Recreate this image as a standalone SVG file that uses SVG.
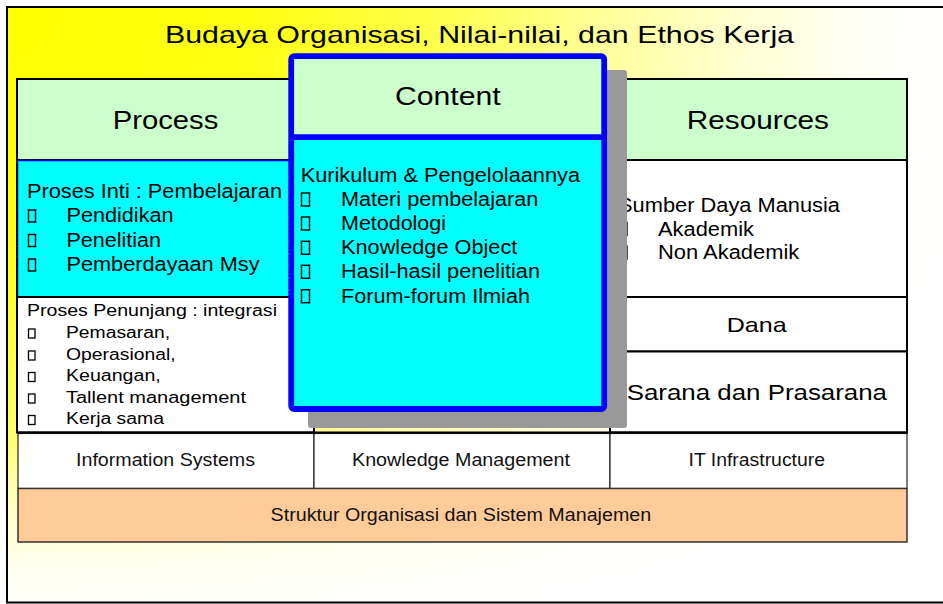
<svg xmlns="http://www.w3.org/2000/svg" width="943" height="604" viewBox="0 0 943 604">
  <defs>
    <!-- warm yellow glow spreading from the upper-left corner of the slide -->
    <radialGradient id="bgGlow" gradientUnits="userSpaceOnUse" cx="0" cy="0" r="1000" gradientTransform="scale(1,0.85)">
      <stop offset="0" stop-color="#FFFF00"/>
      <stop offset="0.25" stop-color="#FFFF10"/>
      <stop offset="0.45" stop-color="#FFFF50"/>
      <stop offset="0.6" stop-color="#FFFF99"/>
      <stop offset="0.75" stop-color="#FFFFD5"/>
      <stop offset="0.88" stop-color="#FFFFFA"/>
      <stop offset="1" stop-color="#FFFFFF"/>
    </radialGradient>
    <!-- lower part of the slide washes out to white -->
    <linearGradient id="bottomWash" gradientUnits="userSpaceOnUse" x1="0" y1="440" x2="0" y2="585">
      <stop offset="0" stop-color="#FFFFFF" stop-opacity="0"/>
      <stop offset="1" stop-color="#FFFFFF" stop-opacity="0.88"/>
    </linearGradient>
    <!-- hollow list marker -->
    <rect id="bulletLg" width="7" height="12" fill="none" stroke="#000" stroke-width="1.4"/>
    <rect id="bulletMd" width="8" height="13" fill="none" stroke="#000" stroke-width="1.4"/>
    <rect id="bulletSm" width="6.5" height="9" fill="none" stroke="#000" stroke-width="1.3"/>
  </defs>
  <style>
    text { font-family: "Liberation Sans", Arial, sans-serif; fill: #000; }
    .hdr { fill: #CCFFCC; stroke: #000; stroke-width: 2; }
    .cell { fill: #FFFFFF; stroke: #000; stroke-width: 2; }
    .lower { fill: #FFFFFF; stroke: #222; stroke-width: 1.2; }
    .h1 { font-size: 25px; }
    .t20 { font-size: 20px; }
    .t19 { font-size: 19.5px; }
    .t16 { font-size: 16px; }
    .t17 { font-size: 17.5px; fill: #111; }
  </style>

  <rect x="0" y="0" width="943" height="604" fill="#FFFFFF"/>
  <!-- slide frame with gradient -->
  <rect x="7" y="7" width="960" height="595.5" fill="url(#bgGlow)"/>
  <rect x="7" y="7" width="960" height="595.5" fill="url(#bottomWash)" stroke="#000" stroke-width="2"/>

  <g id="title">
    <text x="165" y="42.5" font-size="24" textLength="629" lengthAdjust="spacingAndGlyphs">Budaya Organisasi, Nilai-nilai, dan Ethos Kerja</text>
  </g>

  <!-- left column: Process -->
  <g id="process">
    <rect class="hdr" x="17" y="79" width="297" height="81"/>
    <text class="h1" x="112.7" y="128.5" textLength="105.6" lengthAdjust="spacingAndGlyphs">Process</text>

    <rect x="17.5" y="160.5" width="296" height="136.5" fill="#00FFFF" stroke="#0000FF" stroke-width="1.5"/>
    <text class="t19" x="27" y="198.3" textLength="255" lengthAdjust="spacingAndGlyphs">Proses Inti : Pembelajaran</text>
    <use href="#bulletLg" x="28.5" y="210"/>
    <text class="t19" x="66.5" y="222" textLength="107" lengthAdjust="spacingAndGlyphs">Pendidikan</text>
    <use href="#bulletLg" x="28.5" y="234.5"/>
    <text class="t19" x="66.5" y="246.5" textLength="94.5" lengthAdjust="spacingAndGlyphs">Penelitian</text>
    <use href="#bulletLg" x="28.5" y="259"/>
    <text class="t19" x="66.5" y="271" textLength="193" lengthAdjust="spacingAndGlyphs">Pemberdayaan Msy</text>

    <rect class="cell" x="17" y="297" width="297" height="135.5"/>
    <text class="t16" x="27" y="316" textLength="250" lengthAdjust="spacingAndGlyphs">Proses Penunjang : integrasi</text>
    <use href="#bulletSm" x="28.5" y="329"/>
    <text class="t16" x="66" y="337.5" textLength="104" lengthAdjust="spacingAndGlyphs">Pemasaran,</text>
    <use href="#bulletSm" x="28.5" y="351"/>
    <text class="t16" x="66" y="359.5" textLength="109.7" lengthAdjust="spacingAndGlyphs">Operasional,</text>
    <use href="#bulletSm" x="28.5" y="372.5"/>
    <text class="t16" x="66" y="381" textLength="94.7" lengthAdjust="spacingAndGlyphs">Keuangan,</text>
    <use href="#bulletSm" x="28.5" y="394"/>
    <text class="t16" x="66" y="402.5" textLength="180" lengthAdjust="spacingAndGlyphs">Tallent management</text>
    <use href="#bulletSm" x="28.5" y="415.5"/>
    <text class="t16" x="66" y="424" textLength="98" lengthAdjust="spacingAndGlyphs">Kerja sama</text>

    <line x1="17" y1="78" x2="17" y2="433" stroke="#000" stroke-width="2"/>
  </g>

  <!-- right column: Resources -->
  <g id="resources">
    <rect class="hdr" x="610" y="79" width="297" height="81"/>
    <text class="h1" x="686.7" y="128.5" textLength="142.3" lengthAdjust="spacingAndGlyphs">Resources</text>

    <rect class="cell" x="610" y="160" width="297" height="137"/>
    <text class="t20" x="618" y="212.3" textLength="222" lengthAdjust="spacingAndGlyphs">Sumber Daya Manusia</text>
    <use href="#bulletMd" x="619" y="222.5"/>
    <text class="t20" x="658" y="235.5" textLength="96" lengthAdjust="spacingAndGlyphs">Akademik</text>
    <use href="#bulletMd" x="619" y="246"/>
    <text class="t20" x="658" y="259" textLength="141.3" lengthAdjust="spacingAndGlyphs">Non Akademik</text>

    <rect class="cell" x="610" y="297" width="297" height="54.5"/>
    <text x="726.7" y="331.7" font-size="21" textLength="60" lengthAdjust="spacingAndGlyphs">Dana</text>

    <rect class="cell" x="610" y="351.5" width="297" height="81"/>
    <text x="626.7" y="400" font-size="22" textLength="260.3" lengthAdjust="spacingAndGlyphs">Sarana dan Prasarana</text>
  </g>

  <!-- supporting systems row -->
  <g id="support-systems">
    <rect class="lower" x="18" y="433.5" width="296" height="55"/>
    <rect class="lower" x="314" y="433.5" width="296" height="55"/>
    <rect class="lower" x="610" y="433.5" width="297" height="55"/>
    <line x1="17" y1="432.5" x2="907" y2="432.5" stroke="#000" stroke-width="2"/>
    <text class="t17" x="76" y="465.7" textLength="179" lengthAdjust="spacingAndGlyphs">Information Systems</text>
    <text class="t17" x="352" y="465.7" textLength="218" lengthAdjust="spacingAndGlyphs">Knowledge Management</text>
    <text class="t17" x="688.5" y="465.7" textLength="136.5" lengthAdjust="spacingAndGlyphs">IT Infrastructure</text>
  </g>

  <g id="structure">
    <rect x="18" y="488.5" width="889" height="53.5" fill="#FFCC99" stroke="#333" stroke-width="1.5"/>
    <text class="t17" x="270.6" y="520.5" textLength="380.6" lengthAdjust="spacingAndGlyphs">Struktur Organisasi dan Sistem Manajemen</text>
  </g>

  <!-- raised centre panel: Content -->
  <g id="content">
    <rect x="308" y="70" width="319" height="358" rx="3" fill="#999999"/>
    <rect x="291.2" y="56.2" width="313" height="352.8" rx="3" fill="#00FFFF"/>
    <rect x="291.2" y="56.2" width="313" height="81" fill="#CCFFCC"/>
    <line x1="291.2" y1="137.2" x2="604.2" y2="137.2" stroke="#0000FF" stroke-width="5.7"/>
    <rect x="291.2" y="56.2" width="313" height="352.8" rx="3" fill="none" stroke="#0000FF" stroke-width="5.8"/>
    <text x="395" y="105" font-size="26" textLength="105.7" lengthAdjust="spacingAndGlyphs">Content</text>

    <text class="t20" x="300.7" y="182" textLength="279.3" lengthAdjust="spacingAndGlyphs">Kurikulum &amp; Pengelolaannya</text>
    <use href="#bulletMd" x="301.5" y="193"/>
    <text class="t20" x="341" y="206" textLength="197.3" lengthAdjust="spacingAndGlyphs">Materi pembelajaran</text>
    <use href="#bulletMd" x="301.5" y="217"/>
    <text class="t20" x="341" y="230" textLength="105" lengthAdjust="spacingAndGlyphs">Metodologi</text>
    <use href="#bulletMd" x="301.5" y="241.3"/>
    <text class="t20" x="341" y="254.3" textLength="176.3" lengthAdjust="spacingAndGlyphs">Knowledge Object</text>
    <use href="#bulletMd" x="301.5" y="265.3"/>
    <text class="t20" x="341" y="278.3" textLength="199" lengthAdjust="spacingAndGlyphs">Hasil-hasil penelitian</text>
    <use href="#bulletMd" x="301.5" y="289.7"/>
    <text class="t20" x="341" y="302.7" textLength="189" lengthAdjust="spacingAndGlyphs">Forum-forum Ilmiah</text>
  </g>
</svg>
